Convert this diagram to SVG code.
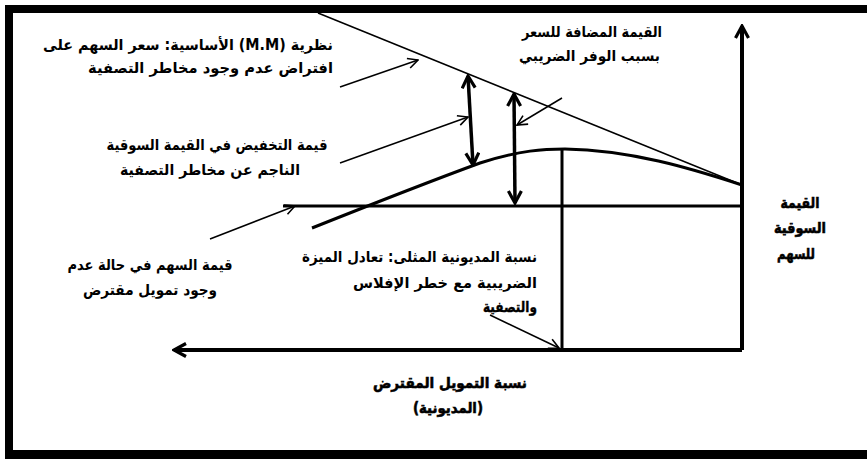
<svg xmlns="http://www.w3.org/2000/svg" width="867" height="459" viewBox="0 0 867 459">
<style>
text{font-family:"DejaVu Sans",sans-serif;font-size:14px;fill:#000}
.b{font-weight:bold;font-size:15px;stroke:#000;stroke-width:0.6}
.a{font-weight:bold;font-size:15px}
.s{stroke:#000;stroke-width:0.4}
.thin{stroke:#000;stroke-width:1.5;fill:none}
.thick{stroke:#000;stroke-width:3;fill:none}
.axis{stroke:#000;stroke-width:4;fill:none}
.dbl{stroke:#000;stroke-width:3.5;fill:none}
</style>
<defs>
<marker id="ah" markerUnits="userSpaceOnUse" viewBox="0 0 12 12" refX="11" refY="6" markerWidth="12" markerHeight="12" orient="auto-start-reverse">
<path d="M1,1 L11,6 L1,11" fill="none" stroke="#000" stroke-width="1.6"/>
</marker>
<marker id="ahb" markerUnits="userSpaceOnUse" viewBox="0 0 16 16" refX="14" refY="8" markerWidth="16" markerHeight="16" orient="auto-start-reverse">
<path d="M2,1.5 L14,8 L2,14.5" fill="none" stroke="#000" stroke-width="3.2"/>
</marker>
</defs>
<rect width="867" height="459" fill="#fff"/>
<g id="frame" fill="#000">
<rect x="5" y="5" width="862" height="8"/>
<rect x="5" y="5" width="8" height="454"/>
<rect x="5" y="450" width="862" height="9"/>
</g>
<g id="connectors">
<line class="axis" x1="742" y1="350" x2="742" y2="26" marker-end="url(#ahb)"/>
<line class="axis" x1="742" y1="350" x2="174" y2="350" marker-end="url(#ahb)"/>
<line class="thin" x1="318" y1="13" x2="742" y2="185"/>
<path class="thick" d="M312,228 Q420,185 480,163 C520,150 545,149 565,149 C630,150 690,168 742,185"/>
<line class="thick" x1="283" y1="206" x2="742" y2="206"/>
<line class="thick" x1="562" y1="150" x2="562" y2="350"/>
<line class="dbl" x1="468" y1="76" x2="473" y2="165" marker-start="url(#ahb)" marker-end="url(#ahb)"/>
<line class="dbl" x1="514" y1="94" x2="515" y2="203" marker-start="url(#ahb)" marker-end="url(#ahb)"/>
<line class="thin" x1="340" y1="87" x2="418" y2="60" marker-end="url(#ah)"/>
<line class="thin" x1="340" y1="163" x2="468" y2="117" marker-end="url(#ah)"/>
<line class="thin" x1="210" y1="239" x2="295" y2="206" marker-end="url(#ah)"/>
<line class="thin" x1="562" y1="98" x2="517" y2="125" marker-end="url(#ah)"/>
<line class="thin" x1="490" y1="315" x2="559" y2="348" marker-end="url(#ah)"/>
</g>
<g id="label-mm">
<text class="a" x="333" y="50" direction="rtl" text-anchor="start" textLength="290" lengthAdjust="spacingAndGlyphs">نظرية (M.M) الأساسية: سعر السهم على</text>
<text class="a" x="333" y="73" direction="rtl" text-anchor="start" textLength="245" lengthAdjust="spacingAndGlyphs">افتراض عدم وجود مخاطر التصفية</text>
</g>
<g id="label-tax">
<text class="a" x="662" y="37" direction="rtl" text-anchor="start" textLength="140" lengthAdjust="spacingAndGlyphs">القيمة المضافة للسعر</text>
<text class="a" x="660" y="61" direction="rtl" text-anchor="start" textLength="141" lengthAdjust="spacingAndGlyphs">بسبب الوفر الضريبي</text>
</g>
<g id="label-reduction">
<text class="a" x="217" y="150" direction="rtl" text-anchor="middle" textLength="221" lengthAdjust="spacingAndGlyphs">قيمة التخفيض في القيمة السوقية</text>
<text class="a" x="210" y="175" direction="rtl" text-anchor="middle" textLength="180" lengthAdjust="spacingAndGlyphs">الناجم عن مخاطر التصفية</text>
</g>
<g id="label-unlevered">
<text class="a" x="150" y="270" direction="rtl" text-anchor="middle" textLength="165" lengthAdjust="spacingAndGlyphs">قيمة السهم في حالة عدم</text>
<text class="a" x="150" y="295" direction="rtl" text-anchor="middle" textLength="134" lengthAdjust="spacingAndGlyphs">وجود تمويل مقترض</text>
</g>
<g id="label-optimal">
<text class="a" x="537" y="262" direction="rtl" text-anchor="start" textLength="235" lengthAdjust="spacingAndGlyphs">نسبة المديونية المثلى:  تعادل الميزة</text>
<text class="a" x="537" y="288" direction="rtl" text-anchor="start" textLength="184" lengthAdjust="spacingAndGlyphs">الضريبية مع خطر الإفلاس</text>
<text class="a s" x="537" y="312" direction="rtl" text-anchor="start" textLength="54" lengthAdjust="spacingAndGlyphs">والتصفية</text>
</g>
<g id="label-y-axis">
<text class="b" x="800" y="208" direction="rtl" text-anchor="middle" textLength="39" lengthAdjust="spacingAndGlyphs">القيمة</text>
<text class="b" x="800" y="233" direction="rtl" text-anchor="middle" textLength="52" lengthAdjust="spacingAndGlyphs">السوقية</text>
<text class="b" x="796" y="259" direction="rtl" text-anchor="middle" textLength="38" lengthAdjust="spacingAndGlyphs">للسهم</text>
</g>
<g id="label-x-axis">
<text class="b" x="450" y="388" direction="rtl" text-anchor="middle" textLength="154" lengthAdjust="spacingAndGlyphs">نسبة التمويل المقترض</text>
<text class="b" x="448" y="413" direction="rtl" text-anchor="middle" textLength="70" lengthAdjust="spacingAndGlyphs">(المديونية)</text>
</g>
</svg>
